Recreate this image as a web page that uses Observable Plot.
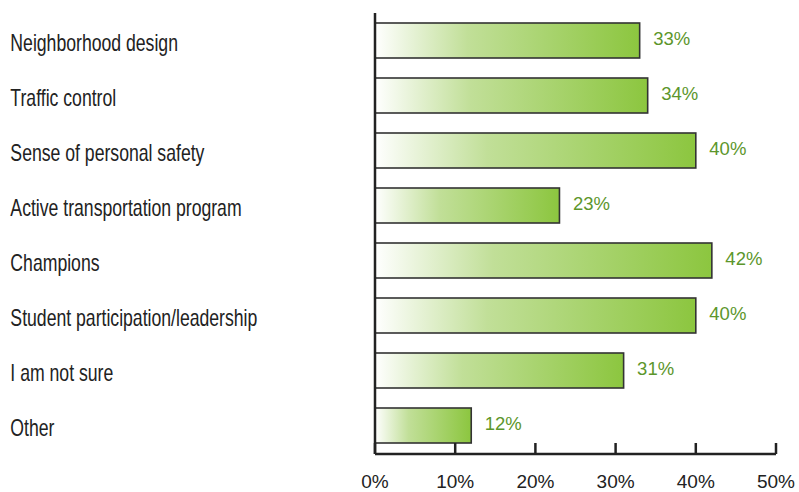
<!DOCTYPE html>
<html>
<head>
<meta charset="utf-8">
<script src="https://cdn.jsdelivr.net/npm/d3@7"></script>
<script src="https://cdn.jsdelivr.net/npm/@observablehq/plot@0.6"></script>
<style>
  html, body { margin: 0; padding: 0; background: #fff; }
  #chart svg { display: block; }
</style>
</head>
<body>
<div id="chart"></div>
<script>
const categories = [
  "Neighborhood design",
  "Traffic control",
  "Sense of personal safety",
  "Active transportation program",
  "Champions",
  "Student participation/leadership",
  "I am not sure",
  "Other"
];
const values = [33, 34, 40, 23, 42, 40, 31, 12];
const xTicks = [0, 10, 20, 30, 40, 50];

const data = categories.map((c, i) => ({category: c, value: values[i]}));
const font = "'Liberation Sans', Arial, sans-serif";
const labelX = 10, labelScale = 0.735;

const plot = Plot.plot({
  width: 799,
  height: 492,
  marginLeft: 375,
  marginRight: 23,
  marginTop: 12.4,
  marginBottom: 38,
  style: {fontFamily: font, fontSize: "20px", color: "#222", background: "#fff"},
  x: {domain: [0, 50], axis: null},
  y: {domain: categories, paddingInner: 0.365, paddingOuter: 0.1825, axis: null},
  marks: [
    Plot.barX(data, {
      y: "category", x: "value",
      fill: "url(#barGrad)", stroke: "#333", strokeWidth: 1.6
    }),
    Plot.text(data, {
      y: "category", x: "value", text: d => d.value + "%",
      textAnchor: "start", dx: 13, dy: -1.5,
      fill: "#5c962b", fontSize: 18.5, fontFamily: font
    }),
    Plot.text(data, {
      y: "category", frameAnchor: "left", text: "category",
      textAnchor: "start", dx: labelX - 375, dy: 2.5,
      fill: "#222", fontSize: 24, fontFamily: font
    })
  ]
});

const svg = d3.select(plot);
const defs = svg.insert("defs", ":first-child");
const grad = defs.append("linearGradient").attr("id", "barGrad")
  .attr("x1", "0").attr("x2", "1").attr("y1", "0").attr("y2", "0");
grad.append("stop").attr("offset", "0").attr("stop-color", "#ffffff");
grad.append("stop").attr("offset", "0.35").attr("stop-color", "#c1df98");
grad.append("stop").attr("offset", "1").attr("stop-color", "#8cc63f");

// condense the category labels horizontally (reference font is condensed)
const textGroups = plot.querySelectorAll("g[aria-label='text']");
const labelGroup = textGroups[textGroups.length - 1];
const wrap = document.createElementNS("http://www.w3.org/2000/svg", "g");
wrap.setAttribute("transform", `translate(${labelX},0) scale(${labelScale},1) translate(${-labelX},0)`);
labelGroup.parentNode.insertBefore(wrap, labelGroup);
wrap.appendChild(labelGroup);

// axes drawn with Plot's x scale
const xs = plot.scale("x");
const yBase = 454, tickTop = 443;
const g = svg.append("g");
g.append("line").attr("x1", xs.apply(0)).attr("x2", xs.apply(50))
  .attr("y1", yBase).attr("y2", yBase).attr("stroke", "#222").attr("stroke-width", 2.5);
g.append("line").attr("x1", xs.apply(0)).attr("x2", xs.apply(0))
  .attr("y1", 13).attr("y2", yBase).attr("stroke", "#222").attr("stroke-width", 2.5);
xTicks.forEach(t => {
  g.append("line").attr("x1", xs.apply(t)).attr("x2", xs.apply(t))
    .attr("y1", tickTop).attr("y2", yBase).attr("stroke", "#222").attr("stroke-width", 2.5);
  g.append("text").attr("x", xs.apply(t)).attr("y", 488)
    .attr("text-anchor", "middle").attr("font-size", 19).attr("font-family", font)
    .attr("fill", "#222").text(t + "%");
});
document.getElementById("chart").appendChild(plot);
</script>
</body>
</html>
